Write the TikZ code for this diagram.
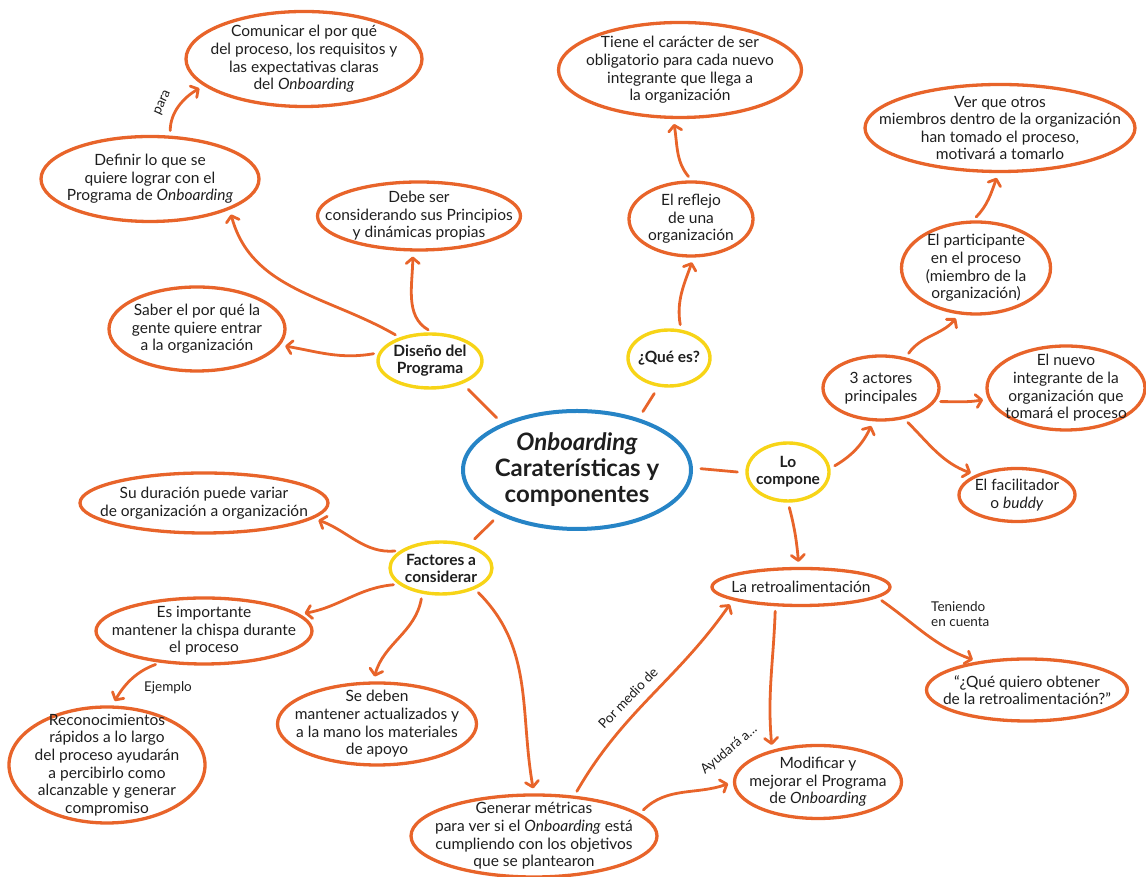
\documentclass[tikz,border=0pt]{standalone}
\usepackage{fontspec}
\setmainfont{Lato}
\usetikzlibrary{shapes.geometric,arrows.meta}

\definecolor{orangeline}{HTML}{E8642A}
\definecolor{yellowline}{HTML}{F7D417}
\definecolor{blueline}{HTML}{2684C6}
\definecolor{ink}{HTML}{1E1E1E}

\tikzset{
  bubble/.style={ellipse, draw=orangeline, line width=3.3pt, inner sep=0pt},
  bubble text/.style={align=center, inner sep=0pt, text=ink, font=\fontsize{15.5}{17.6}\selectfont},
  hub/.style={ellipse, draw=yellowline, line width=3.4pt, inner sep=0pt},
  hub text/.style={align=center, inner sep=0pt, text=ink, font=\bfseries\fontsize{15.5}{17}\selectfont},
  core/.style={ellipse, draw=blueline, line width=4pt, inner sep=0pt},
  core text/.style={align=center, inner sep=0pt, text=ink, font=\bfseries\fontsize{24}{26}\selectfont},
  spoke/.style={draw=orangeline, line width=2.8pt, line cap=round, shorten <=8pt, shorten >=8pt},
  link/.style={draw=orangeline, line width=2.8pt, line cap=round,
    -{Straight Barb[length=5.5pt,width=13pt,round]}, shorten <=5pt, shorten >=5pt},
  tag/.style={text=ink, inner sep=0pt, font=\fontsize{13.5}{15.5}\selectfont},
}

% ellipse outline node plus a separate centred text node
\newcommand\ovalnode[6]{%
  \node[#1, minimum width=#4pt, minimum height=#5pt] (#2) at (#3) {};
  \node[#1 text] (#2-txt) at (#2.center) {#6};
}

\begin{document}
\begin{tikzpicture}[x=1pt,y=1pt]
\useasboundingbox (0,0) rectangle (1146,877);

% centre
\ovalnode{core}{main}{577,407}{228}{118}{\textit{Onboarding}\\Caraterísticas y\\componentes}

% branch hubs
\ovalnode{hub}{dis}{430,516}{104}{54}{Diseño del\\Programa}
\ovalnode{hub}{que}{669,519}{82}{56}{¿Qué es?}
\ovalnode{hub}{lo}{788,405}{82}{58}{Lo\\compone}
\ovalnode{hub}{fac}{441,309}{102}{52}{Factores a\\considerar}

% program design
\ovalnode{bubble}{com}{304,818}{236}{95}{Comunicar el por qué\\del proceso, los requisitos y\\las expectativas claras\\del \textit{Onboarding}}
\ovalnode{bubble}{def}{150,698}{218}{85}{Definir lo que se\\quiere lograr con el\\Programa de \textit{Onboarding}}
\ovalnode{bubble}{deb}{419,661}{203}{68}{Debe ser\\considerando sus Principios\\y dinámicas propias}
\ovalnode{bubble}{sab}{197,548}{176}{84}{Saber el por qué la\\gente quiere entrar\\a la organización}

% what it is
\ovalnode{bubble}{tie}{680,807}{243}{95}{Tiene el carácter de ser\\obligatorio para cada nuevo\\integrante que llega a\\la organización}
\ovalnode{bubble}{ref}{691,658}{124}{74}{El reflejo\\de una\\organización}

% components
\ovalnode{bubble}{ver}{1000,749}{270}{87}{Ver que otros\\miembros dentro de la organización\\han tomado el proceso,\\motivará a tomarlo}
\ovalnode{bubble}{par}{976,609}{149}{92}{El participante\\en el proceso\\(miembro de la\\organización)}
\ovalnode{bubble}{act}{881,489}{116}{64}{3 actores\\principales}
\ovalnode{bubble}{nue}{1066,489}{158}{84}{El nuevo\\integrante de la\\organización que\\tomará el proceso}
\ovalnode{bubble}{fal}{1017,382}{116}{53}{El facilitador\\o \textit{buddy}}
\ovalnode{bubble}{ret}{801,290}{178}{37}{La retroalimentación}
\ovalnode{bubble}{qq}{1027,187}{201}{62}{“¿Qué quiero obtener\\de la retroalimentación?”}
\ovalnode{bubble}{mod}{818,95}{167}{73}{Modificar y\\mejorar el Programa\\de \textit{Onboarding}}

% factors
\ovalnode{bubble}{dur}{204,374}{248}{60}{Su duración puede variar\\de organización a organización}
\ovalnode{bubble}{imp}{204,246}{216}{66}{Es importante\\mantener la chispa durante\\el proceso}
\ovalnode{bubble}{rec}{107,112}{196}{116}{Reconocimientos\\rápidos a lo largo\\del proceso ayudarán\\a percibirlo como\\alcanzable y generar\\compromiso}
\ovalnode{bubble}{sed}{377,153}{199}{82}{Se deben\\mantener actualizados y\\a la mano los materiales\\de apoyo}
\ovalnode{bubble}{gen}{534,41}{246}{82}{Generar métricas\\para ver si el \textit{Onboarding} está\\cumpliendo con los objetivos\\que se plantearon}

% spokes from the centre
\draw[spoke] (main.148) -- (dis.-35);
\draw[spoke] (main.40) -- (que.-110);
\draw[spoke] (main.1) -- (lo.181);
\draw[spoke] (main.-150) -- (fac.40);

% program design branch
\draw[link] (dis.142) to[out=150,in=-75] (def.-21);
\draw[link] (dis.85) to[out=150,in=-90] (deb.-100);
\draw[link] (dis.171) to[out=190,in=-10] (sab.-11);
\draw[link] (def.65) to[out=90,in=210] (com.-165);

% what-it-is branch
\draw[link] (que.67) to[out=100,in=-110] (ref.-86);
\draw[link] (ref.89) to[out=130,in=-80] (tie.-98);

% components branch
\draw[link] (lo.5) to[out=30,in=-115] (act.-103);
\draw[link] (act.51) to[out=55,in=-130] (par.-110);
\draw[link] (act.-14) to[out=0,in=190] (nue.-172);
\draw[link] (act.-53) to[out=-45,in=160] (fal.154);
\draw[link] (par.94) to[out=45,in=-110] (ver.-92);
\draw[link] (lo.-90) to[out=-75,in=95] (ret.96);
\draw[link] (ret.-143) to[out=-92,in=95] (mod.145);
\draw[link] (ret.-8) to[out=-35,in=160] (qq.150);
\draw[link] (gen.45) to[out=60,in=-125] (ret.-169);
\draw[link] (gen.12) to[out=45,in=200] (mod.180);

% factors branch
\draw[link] (fac.157) to[out=185,in=-20] (dur.-8);
\draw[link] (fac.-159) to[out=185,in=10] (imp.10);
\draw[link] (fac.-126) to[out=-100,in=75] (sed.95);
\draw[link] (fac.-32) to[out=-45,in=100] (gen.90);
\draw[link] (imp.-144) to[out=200,in=60] (rec.85);

% connector labels
\node[tag, rotate=65] (lbl-para) at (163,774) {para};
\node[tag] (lbl-ejemplo) at (168,189) {Ejemplo};
\node[tag, anchor=west, align=left] (lbl-teniendo) at (931,263) {Teniendo\\en cuenta};
\node[tag, rotate=46] (lbl-medio) at (628,179) {Por medio de};
\node[tag, rotate=40] (lbl-ayudara) at (729,127) {Ayudará a...};
\end{tikzpicture}
\end{document}
